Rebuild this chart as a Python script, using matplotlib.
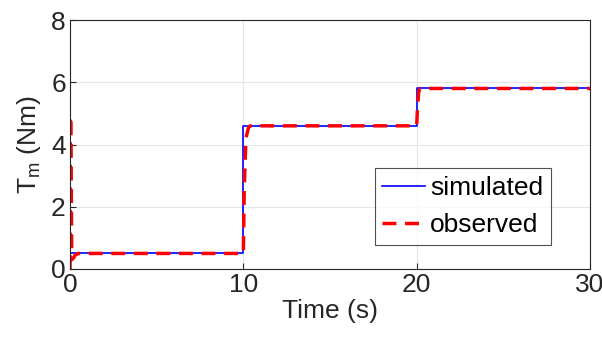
import matplotlib
matplotlib.use("Agg")
import matplotlib.pyplot as plt

plt.rcParams['font.family'] = ['Liberation Sans', 'DejaVu Sans']
plt.rcParams['mathtext.fontset'] = 'custom'
plt.rcParams['mathtext.rm'] = 'Liberation Sans'

t_sim = [0, 10, 10, 20, 20, 30]
T_sim = [0.5, 0.5, 4.6, 4.6, 5.8, 5.8]

t_obs = [0, 0.02, 0.05, 0.1, 0.2, 0.3, 0.5, 10.0, 10.05, 10.15, 10.3, 10.4, 20.0, 20.05, 20.12, 20.2, 30]
T_obs = [0, 4.9, 4.9, 0.3, 0.35, 0.45, 0.5, 0.5, 2.5, 4.2, 4.55, 4.6, 4.6, 5.2, 5.7, 5.8, 5.8]

fig = plt.figure(figsize=(6.02, 3.47), dpi=100)
ax = fig.add_axes([70/602, 1-269/347, 520/602, 249/347])

ax.plot(t_sim, T_sim, color='#0000ff', lw=1.2, label='simulated')
ax.plot(t_obs, T_obs, color='#ff0000', lw=2.5, ls=(0, (4, 2.5)), label='observed')

ax.set_xlim(0, 30)
ax.set_ylim(0, 8)
ax.set_xticks([0, 10, 20, 30])
ax.set_yticks([0, 2, 4, 6, 8])
ax.grid(True, color='#e6e6e6', lw=0.8)
ax.set_axisbelow(True)
for s in ax.spines.values():
    s.set_color('#262626')
    s.set_linewidth(0.8)
ax.tick_params(direction='in', labelsize=19, colors='#262626', length=4, top=False, right=False, pad=3)
ax.set_xlabel('Time (s)', fontsize=19, color='#262626', labelpad=1)
ax.set_ylabel(r'T$_{\mathrm{m}}$ (Nm)', fontsize=19, color='#262626', labelpad=6)

leg = ax.legend(loc='lower right', bbox_to_anchor=(0.925, 0.095), fontsize=19, frameon=True,
                fancybox=False, edgecolor='#262626', handlelength=1.6, borderpad=0.3,
                labelspacing=0.5, handletextpad=0.2, borderaxespad=0)
leg.get_frame().set_linewidth(0.8)

fig.savefig('out.png', dpi=100)
